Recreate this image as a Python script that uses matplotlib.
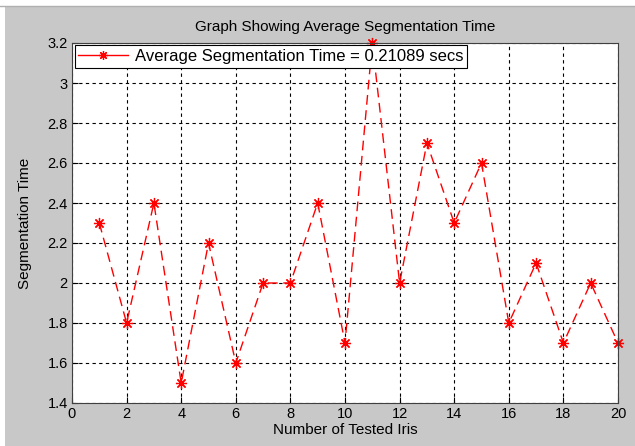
import matplotlib.pyplot as plt
from matplotlib.patches import Rectangle
from matplotlib.lines import Line2D

iris = list(range(1, 21))
seg_time = [2.3, 1.8, 2.4, 1.5, 2.2, 1.6, 2.0, 2.0, 2.4, 1.7,
            3.2, 2.0, 2.7, 2.3, 2.6, 1.8, 2.1, 1.7, 2.0, 1.7]
legend_label = "Average Segmentation Time = 0.21089 secs"

plt.rcParams["font.family"] = ["Liberation Sans", "DejaVu Sans"]

fig = plt.figure(figsize=(6.35, 4.46), dpi=100, facecolor="white")
# grey matlab figure window background
fig.patches.append(Rectangle((5 / 635, 0), 1, 1 - 7 / 446, transform=fig.transFigure,
                             facecolor="#c8c8c8", edgecolor="none", zorder=-10))
fig.lines.append(Line2D([0, 1], [1 - 6 / 446, 1 - 6 / 446], transform=fig.transFigure,
                        color="#b0b0b0", lw=1))

ax = fig.add_axes([72 / 635, 43 / 446, 546 / 635, 360 / 446])
ax.plot(iris, seg_time, color="red", linestyle=(0, (7, 4)), lw=1,
        marker=(8, 2, 0), markersize=8, markeredgewidth=0.9,
        label=legend_label, clip_on=False)

ax.set_xlim(0, 20)
ax.set_ylim(1.4, 3.2)
ax.set_xticks(range(0, 21, 2))
ax.set_yticks([1.4, 1.6, 1.8, 2.0, 2.2, 2.4, 2.6, 2.8, 3.0, 3.2])
ax.set_yticklabels(["1.4", "1.6", "1.8", "2", "2.2", "2.4", "2.6", "2.8", "3", "3.2"])
ax.grid(True, color="black", linestyle=(0, (3, 3)), lw=0.8)
ax.tick_params(direction="in", labelsize=10.5, colors="black", length=4, pad=3)
for s in ax.spines.values():
    s.set_color("#404040")

ax.set_title("Graph Showing Average Segmentation Time", fontsize=11, pad=9)
ax.set_xlabel("Number of Tested Iris", fontsize=11, labelpad=1)
ax.set_ylabel("Segmentation Time", fontsize=11, labelpad=11)

leg = ax.legend(loc="upper left", fontsize=12, fancybox=False, framealpha=1,
                edgecolor="black", borderaxespad=0.15, handlelength=3.0,
                borderpad=0.22, handletextpad=0.4, markerscale=0.8)
leg.get_frame().set_linewidth(0.8)
leg.get_lines()[0].set_linestyle("-")

fig.savefig("out.png", dpi=100, facecolor=fig.get_facecolor())
